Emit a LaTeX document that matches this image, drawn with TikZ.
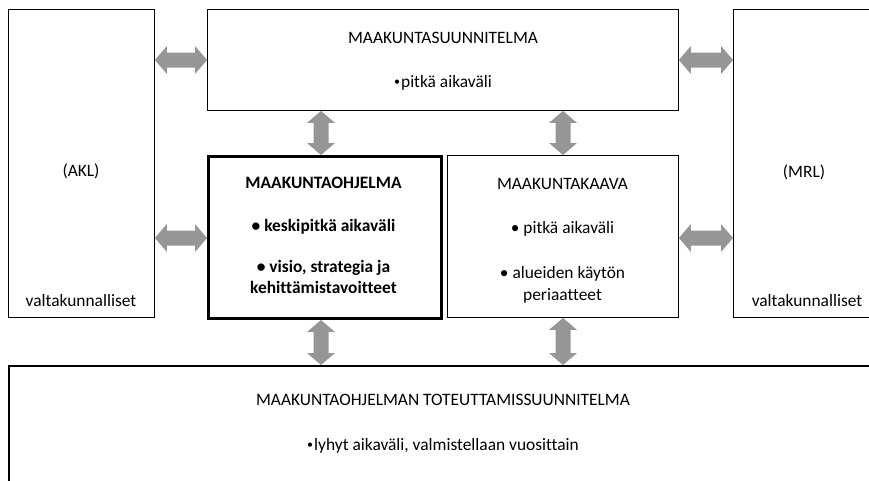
\documentclass[tikz,border=0pt]{standalone}
\usepackage{fontspec}
\setmainfont[Ligatures=NoCommon]{Carlito}
\usetikzlibrary{calc}
\definecolor{arrowgray}{RGB}{150,150,150}
\tikzset{
  box/.style={draw=black, line width=0.9pt, fill=white, inner sep=0pt, anchor=north west},
  boldbox/.style={box, line width=3pt},
  txt/.style={anchor=base, inner sep=0pt, font=\fontsize{17.4}{21}\selectfont},
  btxt/.style={txt, font=\fontsize{17.4}{21}\selectfont\bfseries},
  harrowfill/.style={fill=arrowgray},
}
\newcommand\smallbul{\raisebox{1.8pt}{\fontsize{12}{12}\selectfont\textbullet}\hspace{1pt}}
% horizontal double arrow between coordinates #1 (left) and #2 (right)
\newcommand\hdbl[2]{%
  \fill[harrowfill] (#1) -- ($(#1)+(12,-14)$) -- ($(#1)+(12,-7.5)$) -- ($(#2)+(-12,-7.5)$) -- ($(#2)+(-12,-14)$) -- (#2)
   -- ($(#2)+(-12,14)$) -- ($(#2)+(-12,7.5)$) -- ($(#1)+(12,7.5)$) -- ($(#1)+(12,14)$) -- cycle;}
% vertical double arrow between coordinates #1 (top) and #2 (bottom)
\newcommand\vdbl[2]{%
  \fill[harrowfill] (#1) -- ($(#1)+(-14,12)$) -- ($(#1)+(-7.5,12)$) -- ($(#2)+(-7.5,-12)$) -- ($(#2)+(-14,-12)$) -- (#2)
   -- ($(#2)+(14,-12)$) -- ($(#2)+(7.5,-12)$) -- ($(#1)+(7.5,12)$) -- ($(#1)+(14,12)$) -- cycle;}
\begin{document}
\begin{tikzpicture}[x=1pt, y=-1pt]
\useasboundingbox (0,0) rectangle (869,480);
\clip (0,0) rectangle (869,480);
% boxes
\node[box, minimum width=146pt, minimum height=308pt] (akl) at (8,9) {};
\node[box, minimum width=471pt, minimum height=101pt] (plan) at (207,9) {};
\node[box, minimum width=150pt, minimum height=308pt] (mrl) at (733,9) {};
\node[boldbox, minimum width=233pt, minimum height=162pt] (prog) at (207,155) {};
\node[box, minimum width=231pt, minimum height=162pt] (kaava) at (447,155) {};
\node[box, line width=1.6pt, minimum width=900pt, minimum height=200pt] (tot) at (8,365) {};
% texts
\node[txt] (t1) at (443,43) {MAAKUNTASUUNNITELMA};
\node[txt] (t2) at (443,87) {\smallbul pitkä aikaväli};
\node[txt] (akl1) at (81,176) {(AKL)};
\node[txt] (akl2) at (81,306) {valtakunnalliset};
\node[txt] (mrl1) at (804,177) {(MRL)};
\node[txt] (mrl2) at (807,306) {valtakunnalliset};
\node[btxt] (p1) at (323.5,188) {MAAKUNTAOHJELMA};
\node[btxt] (p2) at (323.5,231) {\textbullet\ keskipitkä aikaväli};
\node[btxt] (p3) at (323.5,272) {\textbullet\ visio, strategia ja};
\node[btxt] (p4) at (323.5,293) {kehittämistavoitteet};
\node[txt] (k1) at (562.5,189) {MAAKUNTAKAAVA};
\node[txt] (k2) at (562.5,233) {\textbullet\ pitkä aikaväli};
\node[txt] (k3) at (562.5,278) {\textbullet\ alueiden käytön};
\node[txt] (k4) at (562.5,300) {periaatteet};
\node[txt] (b1) at (443,405) {MAAKUNTAOHJELMAN TOTEUTTAMISSUUNNITELMA};
\node[txt] (b2) at (443,450) {\smallbul lyhyt aikaväli, valmistellaan vuosittain};
% arrow end points
\coordinate (a1l) at (akl.east |- 0,60);
\coordinate (a1r) at (plan.west |- 0,60);
\coordinate (a2l) at (akl.east |- 0,238);
\coordinate (a2r) at (prog.west |- 0,238);
\coordinate (a3l) at (plan.east |- 0,60);
\coordinate (a3r) at (mrl.west |- 0,60);
\coordinate (a4l) at (kaava.east |- 0,238);
\coordinate (a4r) at (mrl.west |- 0,238);
\coordinate (v1t) at (321,0 |- plan.south);
\coordinate (v1b) at (321,0 |- prog.north);
\coordinate (v2t) at (563,0 |- plan.south);
\coordinate (v2b) at (563,0 |- kaava.north);
\coordinate (v3t) at (321,0 |- prog.south);
\coordinate (v3b) at (321,0 |- tot.north);
\coordinate (v4t) at (563,0 |- kaava.south);
\coordinate (v4b) at (563,0 |- tot.north);
\hdbl{a1l}{a1r}
\hdbl{a2l}{a2r}
\hdbl{a3l}{a3r}
\hdbl{a4l}{a4r}
\vdbl{v1t}{v1b}
\vdbl{v2t}{v2b}
\vdbl{v3t}{v3b}
\vdbl{v4t}{v4b}
\end{tikzpicture}
\end{document}
